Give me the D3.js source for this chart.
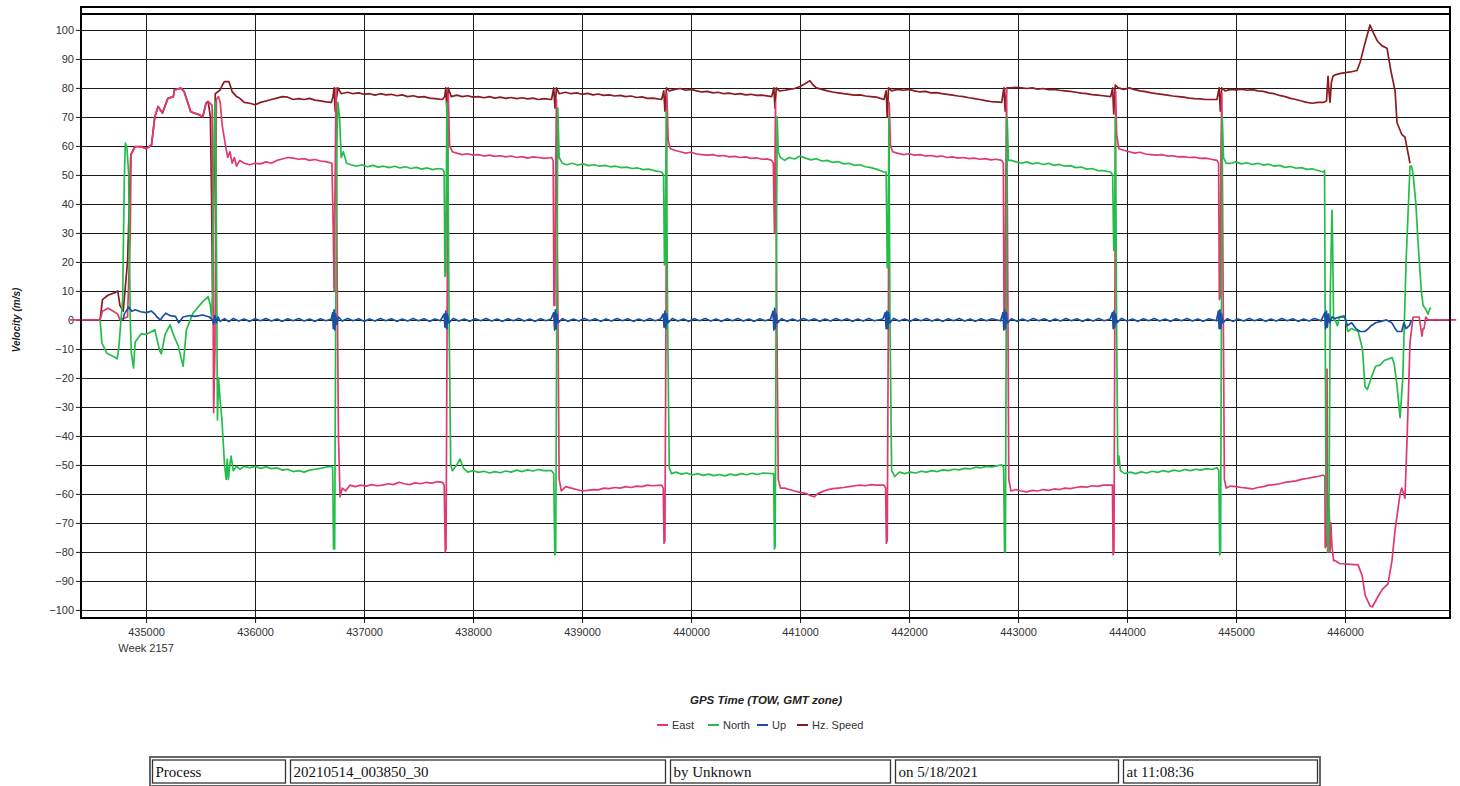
<!DOCTYPE html>
<html><head><meta charset="utf-8">
<script src="https://cdn.jsdelivr.net/npm/d3@7"></script>
<style>body{margin:0;background:#fff}svg{display:block}</style>
</head><body>
<svg id="chart" width="1460" height="786"></svg>
<script>
// ---------- data ----------
const seriesNames = ["East", "North", "Up", "Hz. Speed"];
const seriesColors = ["#e03a6c", "#25bd4a", "#1b4fa3", "#8a1b1f"];
const drawOrder = [3, 0, 1, 2];
const xTickValues = [435000, 436000, 437000, 438000, 439000, 440000, 441000, 442000, 443000, 444000, 445000, 446000];
const yTickValues = [-100, -90, -80, -70, -60, -50, -40, -30, -20, -10, 0, 10, 20, 30, 40, 50, 60, 70, 80, 90, 100];
const weekLabel = "Week 2157";
const xTitle = "GPS Time (TOW, GMT zone)";
const yTitle = "Velocity (m/s)";
const footerCells = ["Process", "20210514_003850_30", "by Unknown", "on 5/18/2021", "at 11:08:36"];

const eastData = [[434300,0],[434578,0],[434600,3],[434650,4],[434700,3],[434740,2],[434760,0],[434830,1],[434855,30],[434862,57],[434900,59.8],[434960,59.6],[435000,59],[435050,60.3],[435080,70],[435110,73.6],[435150,71.3],[435200,76.4],[435250,77],[435260,79.3],[435320,79.9],[435350,78.7],[435410,71.8],[435490,70.7],[435520,70],[435550,74.7],[435580,75],[435606,74],[435620,-32],[435632,-10],[435645,76],[435665,77],[435680,75],[435700,66.7],[435730,59.8],[435750,56],[435770,58],[435790,54],[435810,56],[435830,53],[435860,55],[435900,54],[435950,53.5],[436000,54],[436050,53.8],[436100,54.5],[436150,54],[436200,55],[436250,55.5],[436300,56],[436350,55.8],[436400,55.4],[436450,55.6],[436500,55],[436550,55.3],[436600,54.8],[436650,54.6],[436705,54],
[436718,30],[436725,10],[436732,40],[436743,80],[436752,20],[436765,-40],[436780,-61],[436800,-58],[436830,-59],
[436870,-57],[436920,-57.5],[436970,-57],[437020,-57.3],[437070,-56.8],[437120,-57.2],[437170,-57],[437220,-56.5],[437270,-56.8],[437320,-56],[437370,-56.5],[437420,-56.8],[437470,-56.2],[437520,-56.5],[437570,-56],[437620,-56.3],[437670,-55.8],[437720,-56],
[437735,-57],[437745,-80],[437752,-79],[437762,0],[437772,78],[437785,60],[437810,58],
[437850,57.5],[437900,57],[437950,57.3],[438000,56.8],[438050,57],[438100,56.5],[438150,56.8],[438200,56.4],[438250,56.6],[438300,56.2],[438350,56.5],[438400,56],[438450,56.3],[438500,55.8],[438550,56.2],[438600,56],[438650,55.7],[438720,56],
[438735,55],[438742,5],[438750,5],[438758,50],[438765,76],[438775,20],[438790,-55],[438810,-59],
[438850,-57.5],[438900,-58],[438950,-58.5],[439000,-59],[439050,-58.8],[439100,-58.5],[439150,-58.6],[439200,-58],[439250,-58.2],[439300,-57.8],[439350,-58],[439400,-57.5],[439450,-57.8],[439500,-57.3],[439550,-57.5],[439600,-57],[439650,-57.2],[439730,-57],
[439745,-58],[439752,-77],[439760,-76],[439770,0],[439778,78],[439790,62],[439810,59],
[439850,58.5],[439900,58],[439950,57.5],[440000,57.8],[440050,57.2],[440100,57],[440150,56.8],[440200,57],[440250,56.5],[440300,56.7],[440350,56.2],[440400,56.4],[440450,56],[440500,56.2],[440550,55.7],[440600,55.9],[440650,55.4],[440700,55.5],[440740,55],
[440755,54],[440765,30],[440775,75],[440785,10],[440800,-55],[440820,-58],
[440860,-58],[440900,-58.5],[440950,-59],[441000,-59.5],[441050,-59.8],[441090,-60.5],[441130,-61],[441160,-60],[441200,-59.3],[441250,-58.6],[441300,-58.2],[441350,-58],[441400,-57.8],[441450,-57.5],[441500,-57.2],[441550,-57],[441600,-57.2],[441650,-56.8],[441700,-57],[441770,-57],
[441785,-58],[441792,-77],[441800,-76],[441810,0],[441818,75],[441830,60],[441850,58],
[441890,57.5],[441950,57],[442000,57.3],[442050,56.8],[442100,57],[442150,56.5],[442200,56.7],[442250,56.3],[442300,56.5],[442350,56],[442400,56.2],[442450,55.8],[442500,56],[442550,55.6],[442600,55.8],[442650,55.4],[442700,55.6],[442750,55.2],[442800,55.4],[442850,55],
[442865,54],[442872,-2],[442880,-2],[442888,50],[442895,80],[442905,20],[442915,-55],[442935,-59],
[442980,-58.5],[443030,-59],[443080,-59.3],[443130,-58.8],[443180,-59],[443230,-58.5],[443280,-58.8],[443330,-58.3],[443380,-58.5],[443430,-58],[443480,-58.2],[443530,-57.8],[443580,-57.5],[443630,-57.7],[443680,-57.2],[443730,-57.4],[443780,-57],[443850,-57],
[443866,-57],[443872,-81],[443880,-80],[443888,0],[443895,79],[443905,64],[443925,59],
[443970,58.5],[444020,58],[444070,57.5],[444120,57.8],[444170,57.2],[444220,57],[444270,56.8],[444320,57],[444370,56.5],[444420,56.6],[444470,56.2],[444520,56.3],[444570,56],[444620,56.1],[444670,55.7],[444720,55.8],[444770,55.4],[444825,55],
[444840,54],[444847,7],[444855,8],[444862,60],[444870,78],[444880,20],[444893,-55],[444910,-58],
[444950,-57.3],[445000,-57.5],[445050,-57.8],[445100,-58],[445150,-58.3],[445200,-57.8],[445250,-57.5],[445300,-57],[445350,-56.8],[445400,-56.5],[445450,-56],[445500,-55.8],[445550,-55.5],[445600,-55],[445650,-54.7],[445700,-54.3],[445750,-54],[445800,-53.5],
[445815,-54],[445818,-78.5],[445825,-60],[445830,-78],[445835,-17],[445840,-80],[445845,-60],[445850,-79],[445855,-65],[445862,-80],[445870,-70],[445880,-78],[445895,-83],[445908,-83],[445950,-84],[446050,-84.3],[446119,-84.5],[446156,-88],[446185,-95],[446229,-98.6],[446250,-99],[446294,-96],[446340,-93],[446394,-91],[446431,-83],[446459,-72.4],[446505,-60],[446520,-58],[446550,-61.5],[446570,-40],[446596,-8],[446624,1],[446680,1],[446706,-5.6],[446716,-3],[446725,-3],[446740,1],[446760,0],[447020,0]];

const northData = [[434578,0],[434595,-8],[434640,-11.5],[434700,-12.6],[434735,-13.4],[434750,-9.6],[434770,0],[434785,7],[434800,48],[434810,61],[434825,59],[434840,50.6],[434855,0],[434865,-11.5],[434885,-16.6],[434900,-7.6],[434955,-4.8],[435000,-5],[435080,-3.4],[435125,-10.6],[435140,-11.7],[435175,-5],[435220,-1.7],[435250,-5],[435295,-9],[435340,-16],[435370,-3.4],[435430,2.3],[435520,6.3],[435570,8],[435590,5],[435600,1],[435610,10],[435618,44],[435628,71.8],[435635,75.3],[435645,30.5],[435655,-34.5],[435665,-20],[435680,-28],[435695,-34],[435720,-50],[435735,-55],[435745,-48],[435755,-55],[435765,-51],[435780,-47],[435800,-52],[435830,-50.5],[435860,-51.5],[435900,-50.5],[435950,-51],[436000,-50.5],[436050,-51.2],[436100,-50.7],[436150,-51.3],[436200,-51],[436250,-51.8],[436300,-51.5],[436350,-52.3],[436400,-52],[436450,-52.5],[436500,-51.8],[436550,-51.5],[436600,-51.2],[436650,-50.8],[436700,-50.5],[436712,-51],
[436720,-79],[436730,-79],[436740,0],[436750,60],[436760,75],[436775,70],[436790,56],[436810,58],[436840,54],
[436880,53.5],[436930,53],[436980,53.5],[437030,52.8],[437080,53.3],[437130,52.7],[437180,53],[437230,52.5],[437280,53],[437330,52.4],[437380,52.8],[437430,52.2],[437480,52.6],[437530,52],[437580,52.4],[437630,51.8],[437680,52.2],[437720,52],
[437735,51],[437742,15],[437750,16],[437760,75],[437768,60],[437780,0],[437795,-50],[437810,-52],
[437850,-50],[437880,-48],[437910,-51],[437950,-52.5],[438000,-52],[438050,-52.6],[438100,-52.2],[438150,-52.8],[438200,-52.3],[438250,-52.7],[438300,-52.1],[438350,-52.5],[438400,-51.8],[438450,-52.3],[438500,-51.7],[438550,-52.1],[438600,-51.6],[438650,-52],[438720,-52],
[438740,-53],[438750,-81],[438758,-80],[438768,0],[438778,73],[438790,56],[438820,54],
[438860,53.5],[438910,54],[438960,53.4],[439010,53.8],[439060,53.2],[439110,53.5],[439160,53],[439210,53.3],[439260,52.8],[439310,53],[439360,52.5],[439410,52.7],[439460,52.2],[439510,52.4],[439560,51.8],[439610,52],[439660,51.5],[439730,51],
[439748,50],[439756,19],[439764,20],[439772,72],[439785,0],[439800,-51],[439820,-53],
[439860,-52.5],[439910,-53.2],[439960,-52.8],[440010,-53.5],[440060,-53],[440110,-53.6],[440160,-53.2],[440210,-53.7],[440260,-53.3],[440310,-53.8],[440360,-53.2],[440410,-53.6],[440460,-53],[440510,-53.4],[440560,-52.9],[440610,-53.3],[440660,-52.8],[440740,-53],
[440758,-53],[440765,-79],[440772,-78],[440780,0],[440790,70],[440800,58],[440820,56],
[440860,55],[440900,56],[440950,55.5],[441000,56.5],[441050,55.8],[441100,55.2],[441150,55.6],[441200,54.8],[441250,55],[441300,54.3],[441350,54.6],[441400,53.8],[441450,54],[441500,53.3],[441550,53.5],[441600,52.8],[441650,52.5],[441700,52],[441770,51],
[441790,51],[441800,18],[441808,19],[441815,70],[441825,0],[441840,-52],[441870,-54],
[441910,-52.5],[441960,-53],[442010,-52.5],[442060,-52.8],[442110,-52.2],[442160,-52.5],[442210,-52],[442260,-52.3],[442310,-51.7],[442360,-52],[442410,-51.5],[442460,-51.7],[442510,-51.2],[442560,-51.4],[442610,-50.8],[442660,-51],[442710,-50.5],[442760,-50.7],[442850,-50],
[442868,-51],[442876,-80],[442884,-80],[442892,0],[442900,70],[442912,55],[442940,55],
[442980,54.5],[443030,54],[443080,54.5],[443130,53.8],[443180,54.2],[443230,53.6],[443280,54],[443330,53.3],[443380,53.6],[443430,53],[443480,53.2],[443530,52.5],[443580,52.7],[443630,52],[443680,52.2],[443730,51.5],[443780,51.5],[443850,51],
[443868,50],[443878,24],[443886,25],[443894,70],[443904,0],[443915,-50],[443925,-47],[443940,-52],
[443980,-53],[444030,-52.5],[444080,-53],[444130,-52.4],[444180,-52.8],[444230,-52.2],[444280,-52.6],[444330,-52],[444380,-52.4],[444430,-51.8],[444480,-52.2],[444530,-51.6],[444580,-52],[444630,-51.5],[444680,-51.8],[444730,-51.3],[444780,-51.6],[444825,-51],
[444842,-52],[444850,-81],[444858,-80],[444866,0],[444874,70],[444885,56],[444910,54],
[444950,54],[445000,54.5],[445050,53.8],[445100,54.2],[445150,53.6],[445200,54],[445250,53.4],[445300,53.7],[445350,53],[445400,53.3],[445450,52.6],[445500,52.9],[445550,52.3],[445600,52.5],[445650,51.9],[445700,52.1],[445750,51.5],[445800,51],
[445812,51.5],[445818,0],[445825,-60],[445844,-80],[445852,-70],[445865,10],[445880,37.8],[445885,30],[445895,0],[445908,0],[445930,-2],[445950,1],[445990,1.5],[446010,-1],[446025,-4],[446060,-3],[446120,-4],[446160,-10],[446183,-23],[446205,-24],[446240,-20],[446280,-16],[446320,-15.6],[446360,-14],[446431,-13],[446450,-15],[446475,-22],[446505,-33.7],[446530,-20],[446560,20],[446596,53],[446610,53],[446624,50.5],[446650,40],[446670,26.5],[446700,10],[446716,5],[446740,3.7],[446761,2],[446780,4],[446790,4]];

const upData = [[434789,0],[434800,2],[434840,4.4],[434870,3],[434900,3.5],[434950,2.8],[435000,2.5],[435050,3],[435080,2],[435100,1],[435130,0],[435150,1],[435180,2.3],[435220,1.5],[435270,1.2],[435300,-1],[435340,1],[435400,1.5],[435450,1.2],[435520,1.7],[435580,1],[435610,0],[435620,-1.5],[435630,1.5],[435645,-1],[435660,1],[435680,-0.5],
[435720,0.4],[435760,-0.6],[435800,0.5],[435850,-0.4],[435900,0.3],[435950,-0.5],[436000,0.4],[436050,-0.3],[436100,0.5],[436150,-0.4],[436200,0.3],[436250,-0.5],[436300,0.4],[436350,-0.3],[436400,0.5],[436450,-0.4],[436500,0.3],[436550,-0.5],[436600,0.4],[436650,-0.3],[436700,0.3],
[436712,2.5],[436718,-3],[436725,3.5],[436732,-3.5],[436740,2],[436750,-1.5],[436765,1],
[436800,-0.4],[436850,0.5],[436900,-0.3],[436950,0.4],[437000,-0.5],[437050,0.3],[437100,-0.4],[437150,0.5],[437200,-0.3],[437250,0.4],[437300,-0.5],[437350,0.3],[437400,-0.4],[437450,0.5],[437500,-0.3],[437550,0.4],[437600,-0.5],[437650,0.3],[437700,-0.3],
[437735,2],[437742,-2.5],[437750,3],[437758,-3],[437766,2],[437776,-1],
[437820,0.5],[437870,-0.4],[437920,0.3],[437970,-0.5],[438020,0.4],[438070,-0.3],[438120,0.5],[438170,-0.4],[438220,0.3],[438270,-0.5],[438320,0.4],[438370,-0.3],[438420,0.5],[438470,-0.4],[438520,0.3],[438570,-0.5],[438620,0.4],[438670,-0.3],[438715,0.3],
[438740,2.5],[438748,-3.5],[438755,3.5],[438762,-3],[438770,2],[438780,-1],
[438820,0.4],[438870,-0.5],[438920,0.3],[438970,-0.4],[439020,0.5],[439070,-0.3],[439120,0.4],[439170,-0.5],[439220,0.3],[439270,-0.4],[439320,0.5],[439370,-0.3],[439420,0.4],[439470,-0.5],[439520,0.3],[439570,-0.4],[439620,0.5],[439670,-0.3],[439720,0.3],
[439745,2],[439752,-2.5],[439760,3],[439768,-3],[439776,2],[439786,-1],
[439830,0.5],[439880,-0.4],[439930,0.3],[439980,-0.5],[440030,0.4],[440080,-0.3],[440130,0.5],[440180,-0.4],[440230,0.3],[440280,-0.5],[440330,0.4],[440380,-0.3],[440430,0.5],[440480,-0.4],[440530,0.3],[440580,-0.5],[440630,0.4],[440680,-0.3],[440730,0.3],
[440752,3],[440760,-3.5],[440767,4],[440774,-3],[440782,2],[440792,-1],
[440830,0.4],[440880,-0.5],[440930,0.3],[440980,-0.4],[441030,0.5],[441080,-0.3],[441130,0.4],[441180,-0.5],[441230,0.3],[441280,-0.4],[441330,0.5],[441380,-0.3],[441430,0.4],[441480,-0.5],[441530,0.3],[441580,-0.4],[441630,0.5],[441680,-0.3],[441760,0.3],
[441782,2.5],[441790,-3],[441797,3],[441804,-3],[441812,2.5],[441822,-1],
[441860,0.5],[441910,-0.4],[441960,0.3],[442010,-0.5],[442060,0.4],[442110,-0.3],[442160,0.5],[442210,-0.4],[442260,0.3],[442310,-0.5],[442360,0.4],[442410,-0.3],[442460,0.5],[442510,-0.4],[442560,0.3],[442610,-0.5],[442660,0.4],[442710,-0.3],[442760,0.4],[442840,-0.3],
[442862,2.5],[442870,-3.5],[442877,3.5],[442884,-3],[442892,2.5],[442902,-1],
[442940,0.4],[442990,-0.5],[443040,0.3],[443090,-0.4],[443140,0.5],[443190,-0.3],[443240,0.4],[443290,-0.5],[443340,0.3],[443390,-0.4],[443440,0.5],[443490,-0.3],[443540,0.4],[443590,-0.5],[443640,0.3],[443690,-0.4],[443740,0.5],[443790,-0.3],[443845,0.3],
[443866,2.5],[443873,-3],[443880,3],[443887,-2.5],[443895,2],[443905,-1],
[443950,0.5],[444000,-0.4],[444050,0.3],[444100,-0.5],[444150,0.4],[444200,-0.3],[444250,0.5],[444300,-0.4],[444350,0.3],[444400,-0.5],[444450,0.4],[444500,-0.3],[444550,0.5],[444600,-0.4],[444650,0.3],[444700,-0.5],[444750,0.4],[444820,-0.3],
[444838,3],[444845,-3],[444852,3.5],[444860,-3],[444868,2],[444878,-1],
[444920,0.4],[444970,-0.5],[445020,0.3],[445070,-0.4],[445120,0.5],[445170,-0.3],[445220,0.4],[445270,-0.5],[445320,0.3],[445370,-0.4],[445420,0.5],[445470,-0.3],[445520,0.4],[445570,-0.5],[445620,0.3],[445670,-0.4],[445720,0.5],[445780,-0.3],
[445815,2.5],[445822,-3],[445830,3],[445838,-2.5],[445848,2],[445860,-1],[445880,1],[445910,0.5],[445950,1],[446000,1],[446020,-2],[446060,-1],[446100,-3],[446140,-4],[446180,-4],[446200,-3.5],[446240,-2],[446280,-1],[446330,-0.5],[446380,0],[446430,-1],[446460,-3],[446480,-4],[446520,-4],[446540,-1],[446560,-3],[446590,-2],[446610,0]];

const hzData = [[434578,0],[434600,7],[434650,8.5],[434720,9.5],[434740,10],[434760,5],[434790,3],[434830,20],[434860,57],[434900,59.8],[434960,59.8],[435000,59],[435050,60.3],[435080,70],[435110,73.6],[435150,71.3],[435200,76.4],[435250,77],[435260,79.3],[435320,79.9],[435350,78.7],[435410,71.8],[435490,70.7],[435520,70],[435550,74.7],[435570,75.3],[435590,70],[435600,45],[435610,9],[435620,40],[435635,78],[435680,79.3],[435700,81],[435720,82.2],[435760,82.2],[435790,78.7],[435830,77],[435860,76.4],[435900,75],[435950,74.7],[436000,74.2],[436050,75],[436100,75.5],[436150,76],[436200,76.5],[436250,77],[436300,76.8],[436350,76],[436400,76.3],[436450,76],[436500,76.4],[436550,75.8],[436600,75.5],[436650,75.2],[436700,75],
[436715,77],[436725,80],[436735,72],[436745,76],[436760,80],[436790,78],
[436850,78.5],[436900,78],[436950,78.3],[437000,77.8],[437050,78],[437100,77.5],[437150,78],[437200,77.6],[437250,77.8],[437300,77.3],[437350,77.6],[437400,77],[437450,77.3],[437500,76.8],[437550,77],[437600,76.5],[437650,76.3],[437720,76],
[437740,77],[437750,80],[437760,72],[437772,80],[437800,77],
[437850,77.5],[437900,77],[437950,77.3],[438000,76.8],[438050,77],[438100,76.6],[438150,77],[438200,76.5],[438250,76.8],[438300,76.4],[438350,76.7],[438400,76.3],[438450,76.6],[438500,76.2],[438550,76.5],[438600,76],[438650,76.3],[438720,76],
[438740,80],[438752,73],[438765,80],[438790,78],
[438850,78.5],[438900,78],[438950,78.3],[439000,77.8],[439050,78.1],[439100,77.6],[439150,77.9],[439200,77.4],[439250,77.6],[439300,77.2],[439350,77.4],[439400,77],[439450,77.2],[439500,76.7],[439550,76.9],[439600,76.4],[439650,76.5],[439730,76],
[439750,79],[439760,72],[439775,80],[439800,79],
[439850,79.5],[439900,79.8],[439950,79.2],[440000,79.5],[440050,79],[440100,78.6],[440150,78.8],[440200,78.3],[440250,78.5],[440300,78],[440350,78.2],[440400,77.8],[440450,78],[440500,77.6],[440550,77.8],[440600,77.4],[440650,77.5],[440740,77],
[440760,80],[440770,73],[440782,80],[440810,79],
[440860,79.2],[440900,79.5],[440950,79.8],[441000,80.5],[441050,81.5],[441090,82.5],[441120,81],[441150,80],[441200,79.5],[441250,79],[441300,78.6],[441350,78.3],[441400,78],[441450,77.8],[441500,77.5],[441550,77.6],[441600,77.2],[441650,77],[441700,76.8],[441770,76],
[441790,79],[441800,70],[441812,80],[441840,79],
[441890,79.5],[441950,79.2],[442000,79.5],[442050,79],[442100,78.6],[442150,78.8],[442200,78.3],[442250,78.4],[442300,78],[442350,77.8],[442400,77.5],[442450,77.2],[442500,77],[442550,76.6],[442600,76.3],[442650,76],[442700,75.6],[442750,75.3],[442800,75.2],[442850,75],
[442870,80],[442882,72],[442895,80],[442930,80],
[442980,80.2],[443030,80],[443080,79.8],[443130,80],[443180,79.6],[443230,79.8],[443280,79.4],[443330,79.5],[443380,79.2],[443430,79],[443480,78.8],[443530,78.5],[443580,78.2],[443630,78],[443680,77.7],[443730,77.5],[443780,77.3],[443850,77],
[443868,80],[443878,71],[443892,81],[443920,80],
[443970,79.5],[444020,80],[444070,79.4],[444120,79],[444170,78.7],[444220,78.3],[444270,78],[444320,77.8],[444370,77.5],[444420,77.2],[444470,77],[444520,76.8],[444570,76.5],[444620,76.3],[444670,76.2],[444720,76],[444770,76],[444825,76],
[444845,80],[444856,72],[444868,80],[444900,79],
[444950,79.5],[445000,79.3],[445050,79.6],[445100,79.2],[445150,79.4],[445200,79],[445250,78.8],[445300,78.3],[445350,78],[445400,77.4],[445450,77],[445500,76.4],[445550,76],[445600,75.5],[445650,75],[445700,74.7],[445750,75],[445800,75],
[445830,75.5],[445844,84],[445852,79],[445862,75],[445875,82],[445890,84],[445908,84.5],[445960,85],[446050,85.5],[446110,86],[446140,89],[446180,95],[446229,101.7],[446260,99],[446300,96],[446340,94.5],[446385,93.7],[446420,86],[446459,79],[446477,68],[446520,64],[446550,63],[446596,54]];

const seriesData = [eastData, northData, upData, hzData];

// ---------- chart ----------
const svg = d3.select("#chart");
const plot = {left: 81, right: 1450, top: 7, bottom: 618};
const x = d3.scaleLinear().domain([434403, 446963]).range([plot.left, plot.right]);
const y = d3.scaleLinear().domain([-102.8, 107.9]).range([plot.bottom, plot.top]);
const font = "Arial, 'Liberation Sans', sans-serif";

// gridlines
const g = svg.append("g");
g.selectAll("line.h").data(yTickValues).join("line")
  .attr("x1", plot.left).attr("x2", plot.right)
  .attr("y1", d => Math.round(y(d)) + 0.5).attr("y2", d => Math.round(y(d)) + 0.5)
  .attr("stroke", "#1a1a1a").attr("stroke-width", 1);
g.selectAll("line.v").data(xTickValues).join("line")
  .attr("x1", d => Math.round(x(d)) + 0.5).attr("x2", d => Math.round(x(d)) + 0.5)
  .attr("y1", 14).attr("y2", plot.bottom)
  .attr("stroke", "#1a1a1a").attr("stroke-width", 1);

// axes
const yAxis = d3.axisLeft(y).tickValues(yTickValues).tickSize(5).tickPadding(2);
const ya = svg.append("g").attr("transform", `translate(${plot.left},0)`).call(yAxis);
ya.select(".domain").remove();
ya.selectAll("text").attr("font-family", font).attr("font-size", 11).attr("fill", "#333");
ya.selectAll("line").attr("stroke", "#1a1a1a");

const xAxis = d3.axisBottom(x).tickValues(xTickValues).tickSize(5).tickPadding(5).tickFormat(d3.format("d"));
const xa = svg.append("g").attr("transform", `translate(0,${plot.bottom})`).call(xAxis);
xa.select(".domain").remove();
xa.selectAll("text").attr("font-family", font).attr("font-size", 11).attr("fill", "#333");
xa.selectAll("line").attr("stroke", "#1a1a1a");

svg.append("text").attr("x", x(xTickValues[0])).attr("y", 652).attr("text-anchor", "middle")
  .attr("font-family", font).attr("font-size", 11).attr("fill", "#333").text(weekLabel);

// series lines (not clipped); Hz. Speed drawn underneath
const line = d3.line().x(d => x(d[0])).y(d => y(d[1]));
drawOrder.forEach(i => {
  svg.append("path").datum(seriesData[i]).attr("d", line)
    .attr("fill", "none").attr("stroke", seriesColors[i])
    .attr("stroke-width", 1.7).attr("stroke-linejoin", "round");
});

// frame
svg.append("rect").attr("x", plot.left).attr("y", plot.top)
  .attr("width", plot.right - plot.left).attr("height", plot.bottom - plot.top)
  .attr("fill", "none").attr("stroke", "#000").attr("stroke-width", 2);
svg.append("line").attr("x1", plot.left).attr("x2", plot.right).attr("y1", 14).attr("y2", 14)
  .attr("stroke", "#000").attr("stroke-width", 2);

// titles
svg.append("text").attr("x", 766).attr("y", 704).attr("text-anchor", "middle")
  .attr("font-family", font).attr("font-size", 11.5).attr("font-weight", "bold").attr("font-style", "italic")
  .attr("fill", "#222").text(xTitle);
svg.append("text").attr("transform", "translate(20,320) rotate(-90)").attr("text-anchor", "middle")
  .attr("font-family", font).attr("font-size", 10).attr("font-weight", "bold").attr("font-style", "italic")
  .attr("fill", "#222").text(yTitle);

// legend
const legendX = [657, 708, 757, 797];
const lg = svg.append("g");
seriesNames.forEach((name, i) => {
  lg.append("line").attr("x1", legendX[i]).attr("x2", legendX[i] + 11)
    .attr("y1", 725).attr("y2", 725).attr("stroke", seriesColors[i]).attr("stroke-width", 2);
  lg.append("text").attr("x", legendX[i] + 15).attr("y", 729)
    .attr("font-family", font).attr("font-size", 11).attr("fill", "#333").text(name);
});

// footer table
const cellEdges = [150, 288, 668, 893, 1121, 1320];
const ft = svg.append("g");
ft.append("rect").attr("x", 150).attr("y", 757).attr("width", 1170).attr("height", 29)
  .attr("fill", "none").attr("stroke", "#666").attr("stroke-width", 2);
footerCells.forEach((txt, i) => {
  const x0 = cellEdges[i] + 2.5, x1 = cellEdges[i + 1] - 2.5;
  ft.append("rect").attr("x", x0).attr("y", 760).attr("width", x1 - x0).attr("height", 23)
    .attr("fill", "#fff").attr("stroke", "#333").attr("stroke-width", 1.3);
  ft.append("text").attr("x", x0 + 3).attr("y", 777)
    .attr("font-family", "'Liberation Serif', 'Times New Roman', serif").attr("font-size", 15)
    .attr("fill", "#111").text(txt);
});
</script>
</body></html>
